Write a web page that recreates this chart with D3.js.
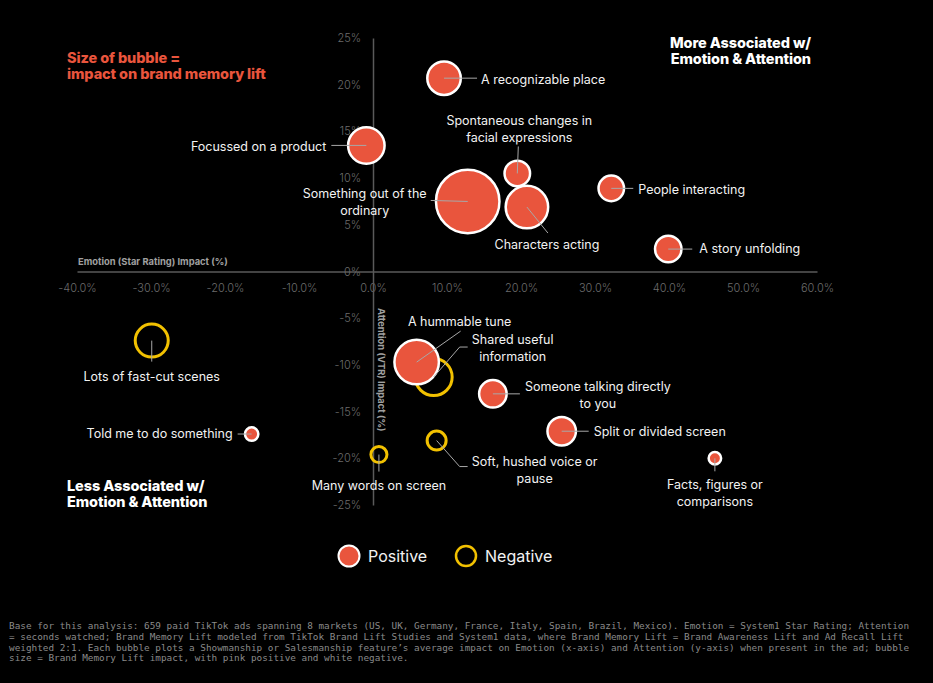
<!DOCTYPE html>
<html>
<head>
<meta charset="utf-8">
<script src="https://cdn.jsdelivr.net/npm/d3@7"></script>
<style>
	html, body { margin: 0; padding: 0; background: #000; }
	svg { display: block; }
</style>
</head>
<body>
<svg width="933" height="683"></svg>
<script>
// feature names, x = emotion impact (%), y = attention impact (%), size = brand memory lift (signed)
const features = [
	'A recognizable place',
	'Focussed on a product',
	'Spontaneous changes in facial expressions',
	'Something out of the ordinary',
	'Characters acting',
	'People interacting',
	'A story unfolding',
	'Lots of fast-cut scenes',
	'Told me to do something',
	'A hummable tune',
	'Shared useful information',
	'Someone talking directly to you',
	'Split or divided screen',
	'Soft, hushed voice or pause',
	'Many words on screen',
	'Facts, figures or comparisons'
];
const emotion = [9.6, -0.9, 19.5, 12.8, 20.8, 32.2, 39.9, -29.9, -16.4, 5.9, 8.2, 16.2, 25.5, 8.6, 0.8, 46.2];
const attention = [20.7, 13.5, 10.5, 7.5, 6.9, 8.9, 2.4, -7.4, -17.4, -9.7, -11.3, -13.1, -17.1, -18.1, -19.6, -20.0];
const memoryLift = [2.74, 3.25, 1.59, 9.84, 4.41, 1.59, 1.71, -2.66, 0.44, 4.83, -3.34, 1.85, 1.98, -0.88, -0.63, 0.38];

const xTicks = [-40, -30, -20, -10, 0, 10, 20, 30, 40, 50, 60];
const yTicks = [-25, -20, -15, -10, -5, 0, 5, 10, 15, 20, 25];
const legendItems = ['Positive', 'Negative'];

const footnote = [
	'Base for this analysis: 659 paid TikTok ads spanning 8 markets (US, UK, Germany, France, Italy, Spain, Brazil, Mexico). Emotion = System1 Star Rating; Attention',
	'= seconds watched; Brand Memory Lift modeled from TikTok Brand Lift Studies and System1 data, where Brand Memory Lift = Brand Awareness Lift and Ad Recall Lift',
	'weighted 2:1. Each bubble plots a Showmanship or Salesmanship feature\u2019s average impact on Emotion (x-axis) and Attention (y-axis) when present in the ad; bubble',
	'size = Brand Memory Lift impact, with pink positive and white negative.'
];

// label text lines + leader layout (offsets from bubble centre, px)
const labelLayout = [
	{ lines: ['A recognizable place'], pts: [[33, 0]], tx: 37, ty: 1, anchor: 'start' },
	{ lines: ['Focussed on a product'], pts: [[-35, 0]], tx: -40, ty: 1, anchor: 'end' },
	{ lines: ['Spontaneous changes in', 'facial expressions'], pts: [[1, -27]], tx: 2, ty: -53, anchor: 'middle' },
	{ lines: ['Something out of the', 'ordinary'], pts: [[-37, -1]], tx: -103, ty: -8, anchor: 'middle' },
	{ lines: ['Characters acting'], pts: [[21, 26]], tx: 20, ty: 38, anchor: 'middle' },
	{ lines: ['People interacting'], pts: [[22, 0]], tx: 27, ty: 1, anchor: 'start' },
	{ lines: ['A story unfolding'], pts: [[24, 0]], tx: 31, ty: 0, anchor: 'start' },
	{ lines: ['Lots of fast-cut scenes'], pts: [[0, 21]], tx: 0, ty: 36, anchor: 'middle' },
	{ lines: ['Told me to do something'], pts: [[-14, 0]], tx: -19, ty: 0, anchor: 'end' },
	{ lines: ['A hummable tune'], pts: [[44, -31]], tx: 43, ty: -40, anchor: 'middle' },
	{ lines: ['Shared useful', 'information'], pts: [[26, -30], [34, -30]], tx: 79, ty: -37, anchor: 'middle' },
	{ lines: ['Someone talking directly', 'to you'], pts: [[27, 0]], tx: 105, ty: -7, anchor: 'middle' },
	{ lines: ['Split or divided screen'], pts: [[27, 0]], tx: 32, ty: 0, anchor: 'start' },
	{ lines: ['Soft, hushed voice or', 'pause'], pts: [[23, 26], [31, 26]], tx: 98, ty: 21, anchor: 'middle' },
	{ lines: ['Many words on screen'], pts: [[0, 17]], tx: 0, ty: 31, anchor: 'middle' },
	{ lines: ['Facts, figures or', 'comparisons'], pts: [[0, 13]], tx: 0, ty: 26, anchor: 'middle' }
];

const RED = '#e9553d';
const GOLD = '#f2c100';
const FONT = 'Inter, "Noto Sans", sans-serif';

const svg = d3.select('svg');

const x = d3.scaleLinear().domain([-40, 60]).range([77, 817]);
const y = d3.scaleLinear().domain([-25, 25]).range([505, 38]);
const r = d3.scaleSqrt().domain([0, 10]).range([0, 32]);

const data = features.map((name, i) => ({
	name,
	x: emotion[i],
	y: attention[i],
	lift: memoryLift[i],
	layout: labelLayout[i]
}));

// x axis along y = 0
const xAxis = svg.append('g')
	.attr('transform', `translate(0,${y(0)})`)
	.call(d3.axisBottom(x).tickValues(xTicks).tickSize(0).tickPadding(13)
		.tickFormat(d => d.toFixed(1) + '%'));
xAxis.select('.domain').attr('stroke', '#5a5a5a').attr('stroke-width', 1.5);
xAxis.selectAll('text')
	.attr('fill', '#6c6c6c')
	.attr('font-family', FONT)
	.attr('font-weight', 300)
	.attr('font-size', 11);

// y axis along x = 0
const yAxis = svg.append('g')
	.attr('transform', `translate(${x(0)},0)`)
	.call(d3.axisLeft(y).tickValues(yTicks).tickSize(0).tickPadding(12)
		.tickFormat(d => d + '%'));
yAxis.select('.domain').attr('stroke', '#5a5a5a').attr('stroke-width', 1.5);
yAxis.selectAll('text')
	.attr('fill', '#6c6c6c')
	.attr('font-family', FONT)
	.attr('font-weight', 300)
	.attr('font-size', 11);

// axis titles
svg.append('text')
	.attr('x', 78)
	.attr('y', 265)
	.attr('fill', '#a0a0a0')
	.attr('font-family', FONT)
	.attr('font-weight', 700)
	.attr('font-size', 9.4)
	.text('Emotion (Star Rating) Impact (%)');

svg.append('text')
	.attr('transform', `translate(${x(0) + 5},308) rotate(90)`)
	.attr('fill', '#a0a0a0')
	.attr('font-family', FONT)
	.attr('font-weight', 700)
	.attr('font-size', 9.4)
	.text('Attention (VTR) Impact (%)');

// bubbles: negatives first so positives sit on top
const ordered = data.slice().sort((a, b) => (a.lift < 0 ? 0 : 1) - (b.lift < 0 ? 0 : 1));

svg.append('g')
	.selectAll('circle')
	.data(ordered)
	.enter()
	.append('circle')
	.attr('cx', d => x(d.x))
	.attr('cy', d => y(d.y))
	.attr('r', d => r(Math.abs(d.lift)))
	.attr('fill', d => d.lift >= 0 ? RED : 'none')
	.attr('stroke', d => d.lift >= 0 ? '#fff' : GOLD)
	.attr('stroke-width', d => d.lift >= 0 ? 2.5 : 3);

// leader lines
svg.append('g')
	.selectAll('polyline')
	.data(data)
	.enter()
	.append('polyline')
	.attr('points', d => {
		const cx = x(d.x), cy = y(d.y);
		return [[cx, cy], ...d.layout.pts.map(p => [cx + p[0], cy + p[1]])].map(p => p.join(',')).join(' ');
	})
	.attr('fill', 'none')
	.attr('stroke', '#a8a8a8')
	.attr('stroke-width', 1);

// labels
const labels = svg.append('g')
	.selectAll('text')
	.data(data)
	.enter()
	.append('text')
	.attr('x', d => x(d.x) + d.layout.tx)
	.attr('y', d => y(d.y) + d.layout.ty)
	.attr('text-anchor', d => d.layout.anchor)
	.attr('fill', '#f2f2f2')
	.attr('font-family', FONT)
	.attr('font-size', 12.5);

labels.selectAll('tspan')
	.data(d => d.layout.lines.map(line => ({ line, d })))
	.enter()
	.append('tspan')
	.attr('x', o => x(o.d.x) + o.d.layout.tx)
	.attr('dy', (o, i) => i === 0 ? '0.35em' : 17)
	.text(o => o.line);

// corner titles
const addBlock = (lines, px, py, colour, anchor) => {
	const t = svg.append('text')
		.attr('x', px)
		.attr('y', py)
		.attr('text-anchor', anchor)
		.attr('fill', colour)
		.attr('font-family', FONT)
		.attr('font-weight', 800)
		.attr('font-size', 14.5)
		.attr('letter-spacing', -0.1);
	lines.forEach((line, i) => {
		t.append('tspan').attr('x', px).attr('dy', i === 0 ? 0 : 16).text(line);
	});
};
addBlock(['Size of bubble =', 'impact on brand memory lift'], 67, 63, RED, 'start');
addBlock(['More Associated w/', 'Emotion & Attention'], 811, 48, '#fff', 'end');
addBlock(['Less Associated w/', 'Emotion & Attention'], 67, 491, '#fff', 'start');

// legend
const legendX = d3.scalePoint().domain(legendItems).range([349, 466]);
const legend = svg.append('g')
	.selectAll('g')
	.data(legendItems)
	.enter()
	.append('g')
	.attr('transform', d => `translate(${legendX(d)},556)`);
legend.append('circle')
	.attr('r', d => d === 'Positive' ? 10.5 : 10)
	.attr('fill', d => d === 'Positive' ? RED : 'none')
	.attr('stroke', d => d === 'Positive' ? '#fff' : GOLD)
	.attr('stroke-width', d => d === 'Positive' ? 2 : 2.5);
legend.append('text')
	.attr('x', 19)
	.attr('dy', '0.35em')
	.attr('fill', '#f2f2f2')
	.attr('font-family', FONT)
	.attr('font-size', 16)
	.text(d => d);

// footnote
const note = svg.append('text')
	.attr('x', 9)
	.attr('y', 629)
	.attr('fill', '#8a8a8a')
	.attr('font-family', '"DejaVu Sans Mono", "Liberation Mono", monospace')
	.attr('font-size', 9.35);
footnote.forEach((line, i) => {
	note.append('tspan').attr('x', 9).attr('dy', i === 0 ? 0 : 10.8).text(line);
});
</script>
</body>
</html>
